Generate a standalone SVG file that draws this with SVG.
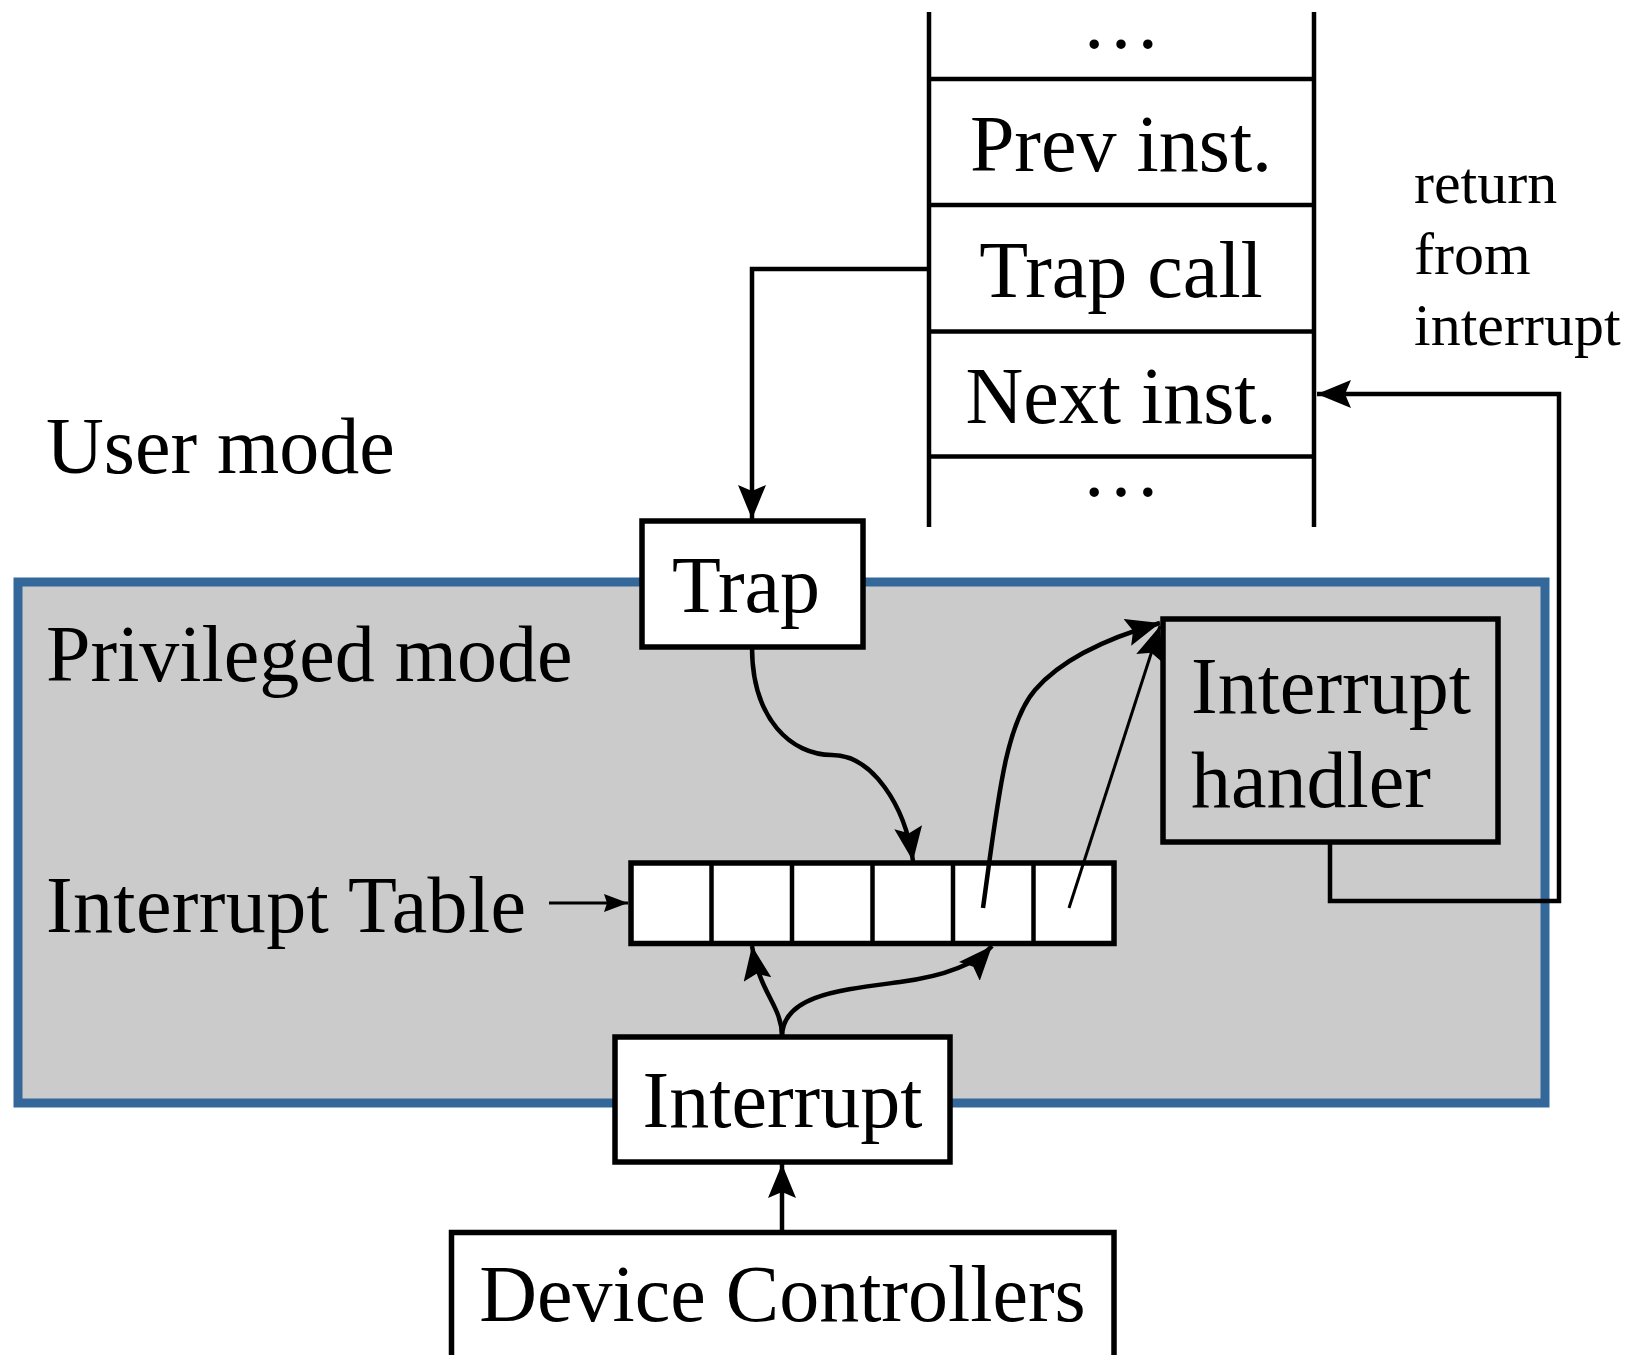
<svg xmlns="http://www.w3.org/2000/svg" width="1631" height="1355" viewBox="0 0 1631 1355">
<style>
text{font-family:"Liberation Serif","Times New Roman",serif;fill:#000}
.big{font-size:80px}
.mid{font-size:60px}
.box{fill:#fff;stroke:#000;stroke-width:5.5}
.ln{fill:none;stroke:#000;stroke-width:4.5}
.thin{fill:none;stroke:#000;stroke-width:3}
</style>
<defs>
<marker id="ah" markerUnits="userSpaceOnUse" markerWidth="36" markerHeight="30" refX="34" refY="14" orient="auto" viewBox="0 0 36 30">
<path d="M0,0 L34,14 L0,28 L6,14 z" fill="#000"/>
</marker>
<marker id="ahs" markerUnits="userSpaceOnUse" markerWidth="26" markerHeight="20" refX="24" refY="9" orient="auto" viewBox="0 0 26 20">
<path d="M0,0 L24,9 L0,18 L3,9 z" fill="#000"/>
</marker>
</defs>
<rect width="1631" height="1355" fill="#fff"/>

<g id="privileged">
<rect x="18" y="582" width="1527" height="521" fill="#cbcbcb" stroke="#35689a" stroke-width="9"/>
<text class="big" x="46" y="681">Privileged mode</text>
</g>

<g id="user-mode">
<text class="big" x="46" y="473">User mode</text>
</g>

<g id="stack">
<line class="ln" x1="929" y1="12" x2="929" y2="527"/>
<line class="ln" x1="1314" y1="12" x2="1314" y2="527"/>
<line class="ln" x1="929" y1="79" x2="1314" y2="79"/>
<line class="ln" x1="929" y1="205" x2="1314" y2="205"/>
<line class="ln" x1="929" y1="331.5" x2="1314" y2="331.5"/>
<line class="ln" x1="929" y1="456.5" x2="1314" y2="456.5"/>
<text class="big" x="1121" y="48" text-anchor="middle">…</text>
<text class="big" x="1121" y="171" text-anchor="middle">Prev inst.</text>
<text class="big" x="1121" y="297" text-anchor="middle">Trap call</text>
<text class="big" x="1121" y="423" text-anchor="middle">Next inst.</text>
<text class="big" x="1121" y="496" text-anchor="middle">…</text>
</g>

<g id="return-label">
<text class="mid" x="1414" y="203">return</text>
<text class="mid" x="1414" y="274">from</text>
<text class="mid" x="1414" y="345">interrupt</text>
</g>

<g id="trap">
<rect class="box" x="642" y="521" width="221" height="126"/>
<text class="big" x="746" y="612" text-anchor="middle">Trap</text>
</g>

<g id="handler">
<rect x="1163" y="619" width="335" height="223" fill="none" stroke="#000" stroke-width="5.5"/>
<text class="big" x="1191" y="713">Interrupt</text>
<text class="big" x="1191" y="807">handler</text>
</g>

<g id="interrupt-table">
<text class="big" x="46" y="932" textLength="480">Interrupt Table</text>
<rect class="box" x="631" y="863" width="483" height="80.5"/>
<line class="ln" x1="711.5" y1="863" x2="711.5" y2="943.5"/>
<line class="ln" x1="792" y1="863" x2="792" y2="943.5"/>
<line class="ln" x1="872.5" y1="863" x2="872.5" y2="943.5"/>
<line class="ln" x1="953" y1="863" x2="953" y2="943.5"/>
<line class="ln" x1="1033.5" y1="863" x2="1033.5" y2="943.5"/>
</g>

<g id="interrupt">
<rect class="box" x="615" y="1037" width="335" height="125"/>
<text class="big" x="782.5" y="1127" text-anchor="middle">Interrupt</text>
</g>

<g id="device-controllers">
<rect class="box" x="451.5" y="1232.5" width="662.5" height="140"/>
<text class="big" x="782.5" y="1321" text-anchor="middle">Device Controllers</text>
</g>

<g id="connectors">
<path class="ln" d="M929,269 H752 V519" marker-end="url(#ah)"/>
<path class="ln" d="M1330,842 V901 H1559 V394 H1317" marker-end="url(#ah)"/>
<path class="thin" d="M549,903 H628" marker-end="url(#ahs)"/>
<path class="ln" d="M752,647 C752,720 792,755 832,755 C872,755 905,805 913,861" marker-end="url(#ah)"/>
<path class="ln" d="M983,908 C998,800 1005,725 1035,690 C1065,655 1118,635 1160,623" marker-end="url(#ah)"/>
<path class="thin" d="M1069,908 L1160,626" marker-end="url(#ah)"/>
<path class="ln" d="M782,1037 C782,1005 760,995 752,946" marker-end="url(#ah)"/>
<path class="ln" d="M782,1037 C782,995 840,990 900,982 C945,976 975,965 992,946" marker-end="url(#ah)"/>
<path class="ln" d="M782,1232.5 V1164" marker-end="url(#ah)"/>
</g>
</svg>
